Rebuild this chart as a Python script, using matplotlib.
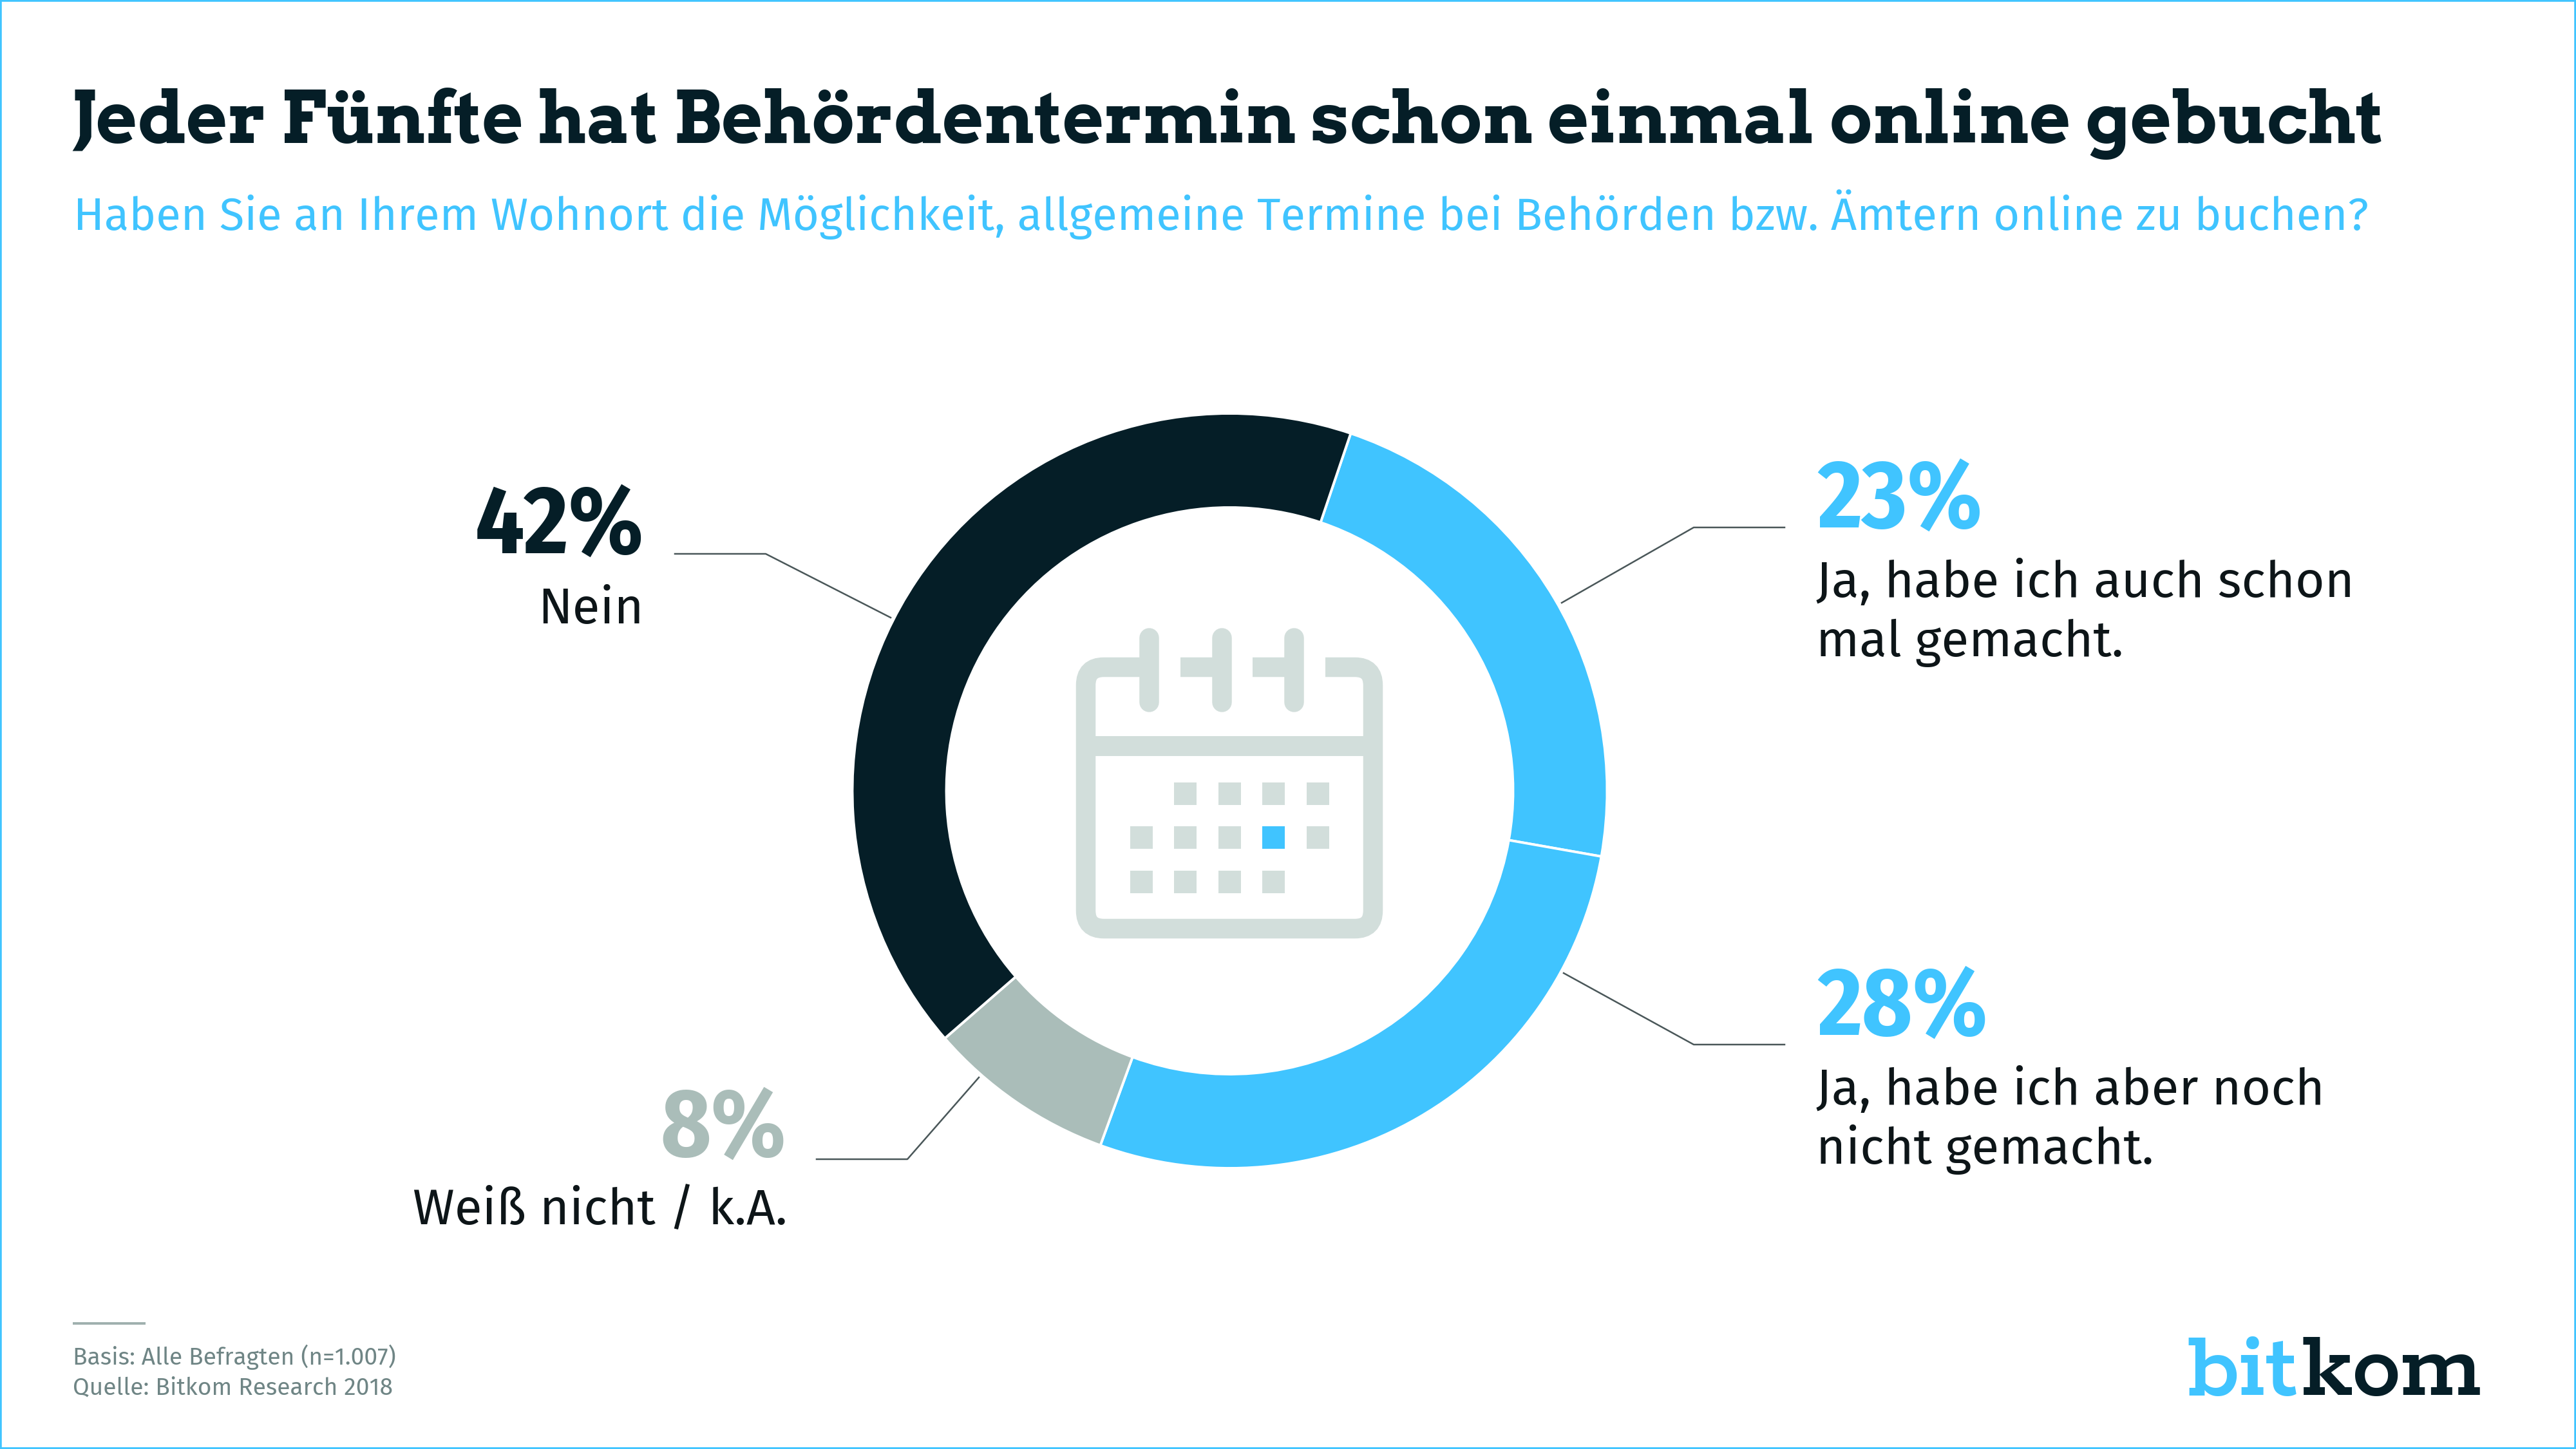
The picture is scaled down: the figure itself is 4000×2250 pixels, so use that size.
import matplotlib
matplotlib.use('Agg')
import matplotlib.pyplot as plt
from matplotlib.patches import FancyBboxPatch, Rectangle

WIDTH, HEIGHT = 4000, 2250
DARK = '#051e27'
BLUE = '#40c4ff'
GREY = '#aabdb9'
PALE = '#d2dedb'
LINE = '#4a5759'
BODY = '#0d1518'
SMALL = '#6f8585'

SLAB = ['Arvo', 'DejaVu Serif']
LOGO = ['Rokkitt', 'DejaVu Serif']
SANS = ['Fira Sans', 'Lato']
NARROW = ['Fira Sans Condensed', 'Lato']

TITLE = 'Jeder Fünfte hat Behördentermin schon einmal online gebucht'
SUBTITLE = 'Haben Sie an Ihrem Wohnort die Möglichkeit, allgemeine Termine bei Behörden bzw. Ämtern online zu buchen?'
FOOTNOTE = ['Basis: Alle Befragten (n=1.007)', 'Quelle: Bitkom Research 2018']

# clockwise from the top right
categories = [['Ja, habe ich auch schon', 'mal gemacht.'], ['Ja, habe ich aber noch', 'nicht gemacht.'],
              ['Weiß nicht / k.A.'], ['Nein']]
percents = [23, 28, 8, 42]
shares = [22.6, 27.8, 8.05, 41.6]
colors = [BLUE, BLUE, GREY, DARK]

fig = plt.figure(figsize=(WIDTH / 200, HEIGHT / 200), dpi=200, facecolor='white')
renderer = fig.canvas.get_renderer()

def px(size):
    # font size for a size given in pixels at 200 dpi
    return size * 72 / 200

def fit(txt, width):
    # scale a text so that it takes the given width in pixels
    bb = txt.get_window_extent(renderer)
    txt.set_fontsize(txt.get_fontsize() * width / bb.width)
    return txt.get_fontsize()

# donut
cx, cy, outer, inner = 1909.5, 1228, 586, 440
ax_pie = fig.add_axes([(cx - outer) / WIDTH, 1 - (cy + outer) / HEIGHT, 2 * outer / WIDTH, 2 * outer / HEIGHT])
ax_pie.pie(shares, colors=colors, startangle=71.3, counterclock=False, radius=1,
           wedgeprops={'width': (outer - inner) / outer, 'edgecolor': 'white', 'linewidth': 1.4})
ax_pie.set_xlim(-1, 1)
ax_pie.set_ylim(-1, 1)

# overlay in reference pixels, y going down
ax = fig.add_axes([0, 0, 1, 1])
ax.set_xlim(0, WIDTH)
ax.set_ylim(HEIGHT, 0)
ax.axis('off')

# frame
ax.add_patch(Rectangle((0, 0), WIDTH, HEIGHT, fc='none', ec=BLUE, lw=2.0))

# calendar icon
sw = 30.5 * 72 / 200
ax.add_patch(FancyBboxPatch((1686, 1036), 446, 406, boxstyle='round,pad=0,rounding_size=28', fc='none', ec=PALE, lw=sw))
# gaps in the top edge
for x0, x1 in [(1799, 1833), (1912, 1945), (2024, 2058)]:
    ax.add_patch(Rectangle((x0, 1012), x1 - x0, 48, fc='white', ec='none', zorder=2))
ax.add_patch(Rectangle((1671, 1143), 476, 31, fc=PALE, ec='none', zorder=3))
for x in [1784, 1897, 2009]:
    ax.plot([x, x], [990, 1090], color=PALE, lw=sw, solid_capstyle='round', zorder=3)
columns = [1755, 1823, 1892, 1960, 2029]
rows = [1215, 1283, 1352]
cells = [(0, 1), (0, 2), (0, 3), (0, 4),
         (1, 0), (1, 1), (1, 2), (1, 3), (1, 4),
         (2, 0), (2, 1), (2, 2), (2, 3)]
for r, c in cells:
    col = BLUE if (r, c) == (1, 3) else PALE
    ax.add_patch(Rectangle((columns[c], rows[r]), 35, 34.5, fc=col, ec='none', zorder=3))

# title block
t = ax.text(112, 222, TITLE, family=SLAB, weight='bold', fontsize=px(110), color=DARK)
fit(t, 3588)
t = ax.text(114, 357, SUBTITLE, family=SANS, fontsize=px(71), color=BLUE)
fit(t, 3562)

# labels: percent first, then the category lines
pct_size = px(144)
t = ax.text(2822, 819, f'{percents[0]}%', family=NARROW, weight='bold', fontsize=pct_size, color=BLUE)
pct_size = fit(t, 256)
t = ax.text(2820, 927, categories[0][0], family=SANS, fontsize=px(80), color=BODY)
lab_size = fit(t, 836)
ax.text(2820, 1019, categories[0][1], family=SANS, fontsize=lab_size, color=BODY)

ax.text(2822, 1607, f'{percents[1]}%', family=NARROW, weight='bold', fontsize=pct_size, color=BLUE)
ax.text(2820, 1715, categories[1][0], family=SANS, fontsize=lab_size, color=BODY)
ax.text(2820, 1807, categories[1][1], family=SANS, fontsize=lab_size, color=BODY)

ax.text(1000, 859, f'{percents[3]}%', family=NARROW, weight='bold', fontsize=pct_size, color=DARK, ha='right')
ax.text(1000, 968, categories[3][0], family=SANS, fontsize=lab_size, color=BODY, ha='right')
ax.text(1221, 1795, f'{percents[2]}%', family=NARROW, weight='bold', fontsize=pct_size, color=GREY, ha='right')
ax.text(1223, 1902, categories[2][0], family=SANS, fontsize=lab_size, color=BODY, ha='right')

# leader lines
leaders = [([2771, 2630, 2425], [819, 819, 936]),
           ([2771, 2630, 2428], [1622, 1622, 1511]),
           ([1048, 1189, 1383], [860, 860, 959]),
           ([1268, 1409, 1520], [1800, 1800, 1673])]
for xs, ys in leaders:
    ax.plot(xs, ys, color=LINE, lw=0.9)

# footnote
ax.plot([113, 226], [2055, 2055], color='#9fb0ae', lw=1.4, solid_capstyle='butt')
t = ax.text(113, 2119, FOOTNOTE[0], family=SANS, fontsize=px(38), color=SMALL)
note_size = fit(t, 503)
ax.text(113, 2166, FOOTNOTE[1], family=SANS, fontsize=note_size, color=SMALL)

# logo
t = ax.text(3396, 2166, 'bit', family=LOGO, weight='bold', fontsize=px(160), color=BLUE)
fit(t, 171)
t = ax.text(3575, 2166, 'kom', family=LOGO, weight='bold', fontsize=px(160), color=DARK)
fit(t, 279)

fig.savefig('out.png', dpi=200)
plt.close(fig)
